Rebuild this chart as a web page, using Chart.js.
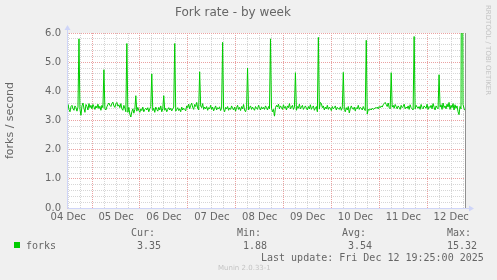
<!DOCTYPE html>
<html>
<head>
<meta charset="utf-8">
<script src="https://cdn.jsdelivr.net/npm/chart.js@4.4.1/dist/chart.umd.min.js"></script>
<style>
  html, body { margin: 0; padding: 0; background: #f0f0f0; }
  #wrap { position: relative; width: 497px; height: 280px; overflow: hidden; }
  #wrap canvas { position: absolute; left: 0; top: 0; }
  .t { position: absolute; white-space: pre; font-family: "DejaVu Sans Mono", monospace; font-size: 10px; line-height: 12px; color: #666; }
  .sq { position: absolute; left: 14px; top: 242px; width: 6px; height: 6px; background: #00cc00; }
  .credit { position: absolute; font-family: "DejaVu Sans", sans-serif; font-size: 7px; color: #c4c4c4; white-space: pre; }
</style>
</head>
<body>
<div id="wrap">
  <canvas id="forkChart" width="497" height="280"></canvas>
  <div class="sq"></div>
  <div class="t" style="left:26px; top:240px;">forks</div>
  <div class="t" style="left:131px; top:227px;">Cur:</div>
  <div class="t" style="left:137px; top:240px;">3.35</div>
  <div class="t" style="left:237px; top:227px;">Min:</div>
  <div class="t" style="left:243px; top:240px;">1.88</div>
  <div class="t" style="left:342px; top:227px;">Avg:</div>
  <div class="t" style="left:348px; top:240px;">3.54</div>
  <div class="t" style="left:447px; top:227px;">Max:</div>
  <div class="t" style="left:447px; top:240px;">15.32</div>
  <div class="t" style="left:261px; top:252px;">Last update: Fri Dec 12 19:25:00 2025</div>
  <div class="credit" style="left:218px; top:264px;">Munin 2.0.33-1</div>
  <div class="credit" style="left:488px; top:5px; transform-origin: 0 0; transform: translate(4px, 0) rotate(90deg);">RRDTOOL / TOBI OETIKER</div>
</div>
<script>
// hours since 04 Dec 00:00, one sample every 30 min
const startHour = 11.42;
const endHour = 211.42;
const sampleStep = 0.5;
const dayLabels = ['04 Dec', '05 Dec', '06 Dec', '07 Dec', '08 Dec', '09 Dec', '10 Dec', '11 Dec', '12 Dec'];
const yLabels = ['0.0', '1.0', '2.0', '3.0', '4.0', '5.0', '6.0'];

// forks / second
const forks = [
  3.42, 3.55, 3.38, 3.30, 3.48, 3.52, 3.40, 3.35, 3.50, 3.44, 3.32, 3.46, 5.80, 3.38, 3.18, 3.50, 3.60, 3.42, 3.28, 3.55,
  3.48, 3.36, 3.58, 3.44, 3.52, 3.40, 3.55, 3.47, 3.38, 3.50, 3.43, 3.56, 3.41, 3.49, 3.35, 3.52, 3.44, 4.74, 3.40, 3.36,
  3.47, 3.55, 3.60, 3.52, 3.48, 3.58, 3.63, 3.50, 3.45, 3.57, 3.62, 3.49, 3.54, 3.44, 3.58, 3.40, 3.35, 3.52, 3.42, 3.30,
  5.64, 3.28, 3.45, 3.22, 3.12, 3.30, 3.40, 3.25, 3.38, 3.85, 3.32, 3.45, 3.35, 3.28, 3.40, 3.34, 3.46, 3.30, 3.38, 3.42,
  3.36, 3.44, 3.30, 3.40, 3.48, 4.60, 3.34, 3.42, 3.28, 3.46, 3.38, 3.32, 3.45, 3.36, 3.50, 3.30, 3.40, 3.85, 3.35, 3.42,
  3.30, 3.38, 3.44, 3.36, 3.42, 3.33, 3.40, 3.46, 5.64, 3.32, 3.38, 3.44, 3.34, 3.40, 3.30, 3.46, 3.36, 3.42, 3.38, 3.33,
  3.50, 3.44, 3.56, 3.40, 3.52, 3.60, 3.45, 3.38, 3.55, 3.48, 3.62, 3.42, 3.36, 4.67, 3.50, 3.44, 3.58, 3.38, 3.46, 3.40,
  3.48, 3.35, 3.44, 3.40, 3.52, 3.38, 3.46, 3.33, 3.42, 3.50, 3.36, 3.44, 3.40, 3.47, 3.34, 3.42, 5.68, 3.38, 3.30, 3.45,
  3.40, 3.48, 3.35, 3.43, 3.38, 3.50, 3.42, 3.36, 3.46, 3.32, 3.44, 3.52, 3.38, 3.45, 3.34, 3.48, 3.40, 3.55, 3.36, 3.30,
  3.42, 4.80, 3.36, 3.44, 3.50, 3.38, 3.46, 3.40, 3.35, 3.48, 3.42, 3.38, 3.52, 3.44, 3.36, 3.47, 3.40, 3.45, 3.38, 3.50,
  3.44, 3.36, 3.48, 3.40, 5.80, 3.42, 3.30, 3.38, 3.15, 3.44, 3.52, 3.46, 3.56, 3.40, 3.50, 3.45, 3.38, 3.54, 3.42, 3.48,
  3.36, 3.50, 3.44, 3.58, 3.40, 3.46, 3.52, 3.38, 3.45, 4.64, 3.35, 3.48, 3.42, 3.56, 3.40, 3.46, 3.52, 3.38, 3.44, 3.50,
  3.42, 3.36, 3.48, 3.40, 3.54, 3.38, 3.45, 3.50, 3.35, 3.42, 3.48, 3.30, 5.85, 3.40, 3.62, 3.58, 3.44, 3.50, 3.36, 3.46,
  3.40, 3.52, 3.38, 3.46, 3.42, 3.34, 3.48, 3.40, 3.44, 3.50, 3.36, 3.45, 3.41, 3.38, 3.47, 3.35, 3.43, 4.65, 3.38, 3.30,
  3.44, 3.36, 3.48, 3.26, 3.40, 3.50, 3.42, 3.38, 3.46, 3.33, 3.44, 3.40, 3.52, 3.38, 3.45, 3.42, 3.36, 3.48, 3.40, 3.34,
  5.75, 3.22, 3.38, 3.35, 3.40, 3.36, 3.42, 3.38, 3.40, 3.44, 3.42, 3.46, 3.40, 3.48, 3.44, 3.50, 3.46, 3.54, 3.58, 3.62,
  3.55, 3.48, 3.60, 3.44, 3.40, 4.64, 3.46, 3.52, 3.42, 3.55, 3.48, 3.40, 3.50, 3.45, 3.38, 3.52, 3.44, 3.48, 3.56, 3.40,
  3.46, 3.42, 3.50, 3.38, 3.54, 3.44, 3.40, 3.36, 5.88, 3.40, 3.52, 3.46, 3.42, 3.48, 3.38, 3.55, 3.44, 3.40, 3.50, 3.46,
  3.42, 3.56, 3.38, 3.48, 3.44, 3.52, 3.40, 3.58, 3.46, 3.36, 3.50, 3.44, 3.40, 4.57, 3.46, 3.54, 3.38, 3.60, 3.44, 3.50,
  3.40, 3.56, 3.46, 3.62, 3.38, 3.52, 3.44, 3.58, 3.36, 3.54, 3.42, 3.50, 3.30, 3.20, 3.48, 3.40, 15.32, 3.55, 3.42, 3.35
];

const GRID = '#d6d6d6';
const MGRID = '#eaa2a2';
const AXIS = '#cfd5f8';

// 6-hour grid on x, midnight is the red one, label at noon
const xTicks = [];
for (let h = 12; h <= 210; h += 6) xTicks.push(h);
// 0.2 grid on y, red at whole numbers
const yTicks = [];
for (let k = 0; k <= 30; k++) yTicks.push(k / 5);

const isWhole = v => Math.abs(v - Math.round(v)) < 1e-6;

// white canvas, munin style axes with arrows, "now" rule
const munin = {
  id: 'munin',
  beforeDraw(chart) {
    const c = chart.ctx, a = chart.chartArea;
    c.save();
    c.fillStyle = '#f0f0f0';
    c.fillRect(0, 0, chart.width, chart.height);
    c.fillStyle = '#ffffff';
    c.fillRect(a.left, a.top, a.right - a.left, a.bottom - a.top);
    c.restore();
  },
  afterDatasetsDraw(chart) {
    const c = chart.ctx, a = chart.chartArea;
    const x0 = Math.round(a.left) + 0.5, y0 = Math.round(a.bottom) + 0.5;
    c.save();
    c.strokeStyle = '#909090';
    c.lineWidth = 1;
    c.beginPath();
    c.moveTo(Math.round(a.right) - 0.5, a.top);
    c.lineTo(Math.round(a.right) - 0.5, a.bottom);
    c.stroke();
    c.strokeStyle = AXIS;
    c.fillStyle = AXIS;
    c.beginPath();
    c.moveTo(x0, y0);
    c.lineTo(x0, a.top - 4);
    c.moveTo(x0, y0);
    c.lineTo(a.right + 4, y0);
    c.stroke();
    c.beginPath();
    c.moveTo(x0 - 3, a.top - 3);
    c.lineTo(x0, a.top - 8);
    c.lineTo(x0 + 3, a.top - 3);
    c.closePath();
    c.fill();
    c.beginPath();
    c.moveTo(a.right + 3, y0 - 3);
    c.lineTo(a.right + 8, y0);
    c.lineTo(a.right + 3, y0 + 3);
    c.closePath();
    c.fill();
    c.restore();
  }
};

const ctx = document.getElementById('forkChart').getContext('2d');
const forkChart = new Chart(ctx, {
  type: 'line',
  data: {
    datasets: [{
      label: 'forks',
      data: forks.map((v, i) => ({ x: startHour + i * sampleStep, y: v })),
      borderColor: '#00cc00',
      borderWidth: 1,
      pointRadius: 0,
      tension: 0,
      fill: false
    }]
  },
  options: {
    responsive: false,
    animation: false,
    devicePixelRatio: 1,
    layout: { padding: { left: 0, top: 0, right: 31, bottom: 52 } },
    plugins: {
      legend: { display: false },
      tooltip: { enabled: false },
      title: {
        display: true,
        text: 'Fork rate - by week',
        color: '#666',
        font: { family: 'DejaVu Sans', size: 12, weight: 'normal' },
        padding: { top: 6, bottom: 12.6 }
      }
    },
    scales: {
      x: {
        type: 'linear',
        min: startHour,
        max: endHour,
        afterBuildTicks: scale => { scale.ticks = xTicks.map(v => ({ value: v })); },
        afterFit: scale => { scale.height = 20; },
        grid: {
          drawTicks: false,
          color: c => (c.tick && c.tick.value % 24 === 0) ? MGRID : GRID
        },
        border: { display: false, dash: [1, 1] },
        ticks: {
          autoSkip: false,
          maxRotation: 0,
          padding: 3,
          color: '#666',
          font: { family: 'DejaVu Sans', size: 10 },
          callback: v => (v % 24 === 12) ? dayLabels[Math.floor(v / 24)] : ''
        }
      },
      y: {
        min: 0,
        max: 6,
        afterBuildTicks: scale => { scale.ticks = yTicks.map(v => ({ value: v })); },
        afterFit: scale => { scale.width = 67; },
        grid: {
          drawTicks: false,
          color: c => (c.tick && isWhole(c.tick.value)) ? MGRID : GRID
        },
        border: { display: false, dash: [1, 1] },
        title: {
          display: true,
          text: 'forks / second',
          color: '#666',
          font: { family: 'DejaVu Sans', size: 11 },
          padding: { top: 4, bottom: 0 }
        },
        ticks: {
          autoSkip: false,
          padding: 6,
          color: '#666',
          font: { family: 'DejaVu Sans', size: 10 },
          callback: v => isWhole(v) ? yLabels[Math.round(v)] : ''
        }
      }
    }
  },
  plugins: [munin]
});
</script>
</body>
</html>
